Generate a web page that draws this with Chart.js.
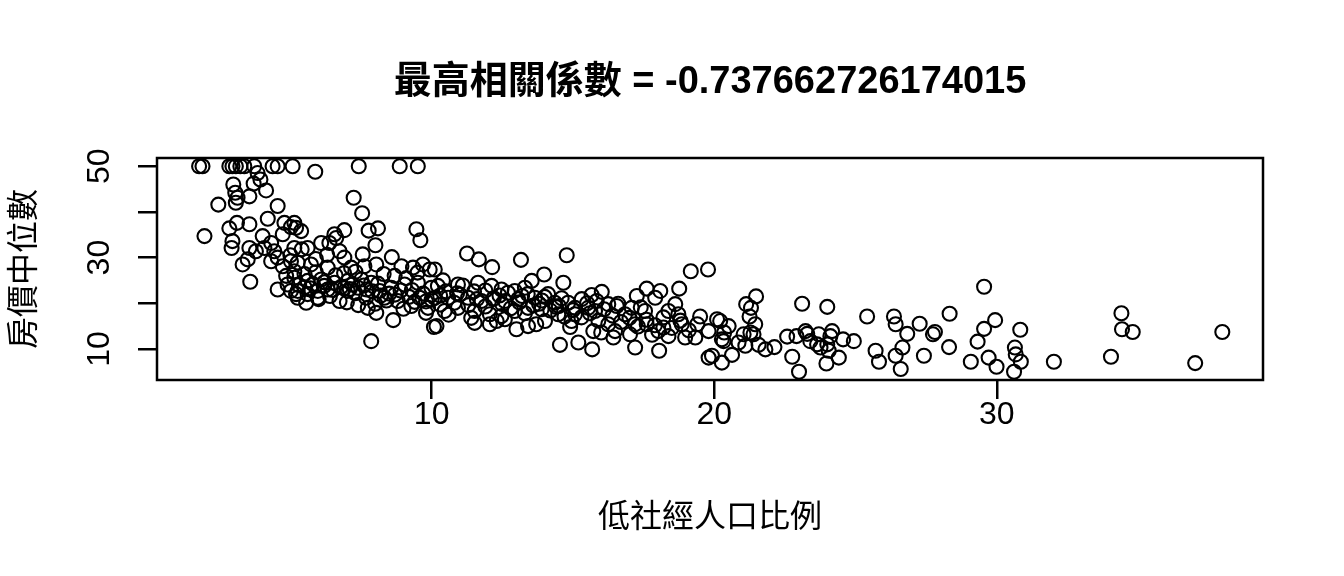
<!DOCTYPE html>
<html>
<head>
<meta charset="utf-8">
<script src="https://cdn.jsdelivr.net/npm/chart.js@4.4.1/dist/chart.umd.min.js"></script>
<style>
  html, body { margin: 0; padding: 0; background: #fff; }
  canvas { display: block; }
</style>
</head>
<body>
<canvas id="myChart" width="1344" height="576"></canvas>
<script>
// 低社經人口比例 (x) and 房價中位數 (y)
const lstat = [
  1.77, 1.89, 2.84, 2.95, 3.07, 3.23, 3.37, 3.72, 4.37, 4.55, 5.08, 7.42, 8.87, 9.51,
  3.84, 3.94, 3.70, 2.98, 4.14, 3.05, 3.13, 3.55, 3.07, 2.45, 4.55, 4.20, 3.55, 3.11, 2.84, 1.96,
  2.95, 2.92, 3.55, 4.02, 4.79, 5.02, 4.73, 4.32, 4.08, 3.78, 3.31, 3.49, 3.58, 4.43, 4.55, 4.73,
  4.32, 5.14, 5.02, 5.14, 4.85, 4.55, 4.90, 5.02, 5.20, 5.26,
  5.88, 7.24, 7.54, 7.77, 8.10, 8.01, 9.46, 9.60, 6.91, 6.56, 6.62, 6.09, 6.38, 5.61, 5.38, 5.14,
  5.20, 6.74, 6.91, 7.56, 8.04, 8.59, 8.93, 8.69, 9.34, 9.69, 9.93, 5.26, 5.73, 6.32, 7.15, 7.62,
  5.14, 5.61, 6.09, 6.56, 7.03, 7.51, 7.86, 8.16, 8.57, 9.04, 9.51, 9.99, 5.26, 5.61, 5.97, 6.32,
  6.74, 7.03, 7.39, 7.68, 7.74, 8.04, 8.33, 8.80, 9.28, 9.57, 9.87, 5.56, 5.97, 8.64, 10.08, 7.86,
  11.25, 11.67, 12.14, 13.16, 14.78, 13.98, 13.54, 14.66, 10.93, 11.64, 12.12, 12.47, 12.94, 13.30,
  10.22, 10.11, 10.11, 10.58, 11.29, 11.76, 12.17, 12.59, 13.06, 13.65, 14.12, 14.36, 14.83, 15.07,
  10.46, 10.93, 11.52, 12.06, 12.47, 12.94, 13.41, 13.89, 14.48, 14.95, 10.17, 11.52, 12.06, 12.59,
  13.00, 13.41, 14.01, 14.54,
  19.17, 19.78, 18.76, 17.61, 18.09, 17.26, 17.91, 16.02, 15.66, 15.31, 15.84, 16.25, 16.55, 18.62,
  18.38, 18.73, 19.50, 20.10, 16.84, 17.08, 17.55, 15.07, 15.54, 15.78, 16.25, 16.49, 15.72, 15.19,
  15.68, 16.43, 17.20, 17.02, 17.20, 17.61, 18.02, 18.20, 18.38, 18.05, 18.85, 18.97, 19.33, 19.80,
  20.27, 19.80, 19.92, 20.27,
  21.48, 21.13, 21.30, 21.25, 21.45, 20.51, 20.21, 20.35, 20.33, 20.63, 20.86, 21.04, 21.28, 21.39,
  21.10, 21.57, 21.81, 22.13, 22.58, 22.91, 22.76, 23.00, 23.11, 23.23, 23.29, 23.40, 23.70, 23.64,
  23.76, 24.00, 24.17, 24.11, 24.00, 24.05, 23.97, 24.41, 24.56, 24.94, 25.41, 25.71, 25.83, 26.36,
  26.42, 26.42, 26.60,
  26.83, 26.66, 27.27, 27.42, 27.74, 27.81, 28.33, 28.31, 29.08, 29.55, 29.55, 29.94, 29.32, 29.71,
  29.99, 30.64, 30.67, 30.83, 30.85, 30.61, 32.02, 34.04, 34.41, 34.43, 34.81, 37.02, 37.98,
  5.50, 5.80, 6.20, 6.50, 6.80, 7.10, 7.30, 7.60, 7.90, 8.20, 8.40, 8.70, 8.90, 9.20, 9.40, 9.70,
  10.00, 10.30, 10.50, 10.80, 11.00, 11.30, 11.60, 11.90, 12.20, 12.50, 12.80, 13.10, 13.30, 13.60,
  13.90, 14.20, 14.40, 14.70, 15.00, 15.30, 15.60, 15.90, 16.10, 16.40, 16.70, 17.00, 17.30, 17.60,
  17.90, 18.20, 18.50, 18.80, 19.10, 19.40,
  6.00, 6.40, 7.00, 7.40, 8.00, 9.00, 9.80, 10.60, 11.40, 12.30, 13.70, 14.90, 16.00, 17.80,
  5.00, 5.40, 5.90, 6.30, 6.90, 7.30, 8.30, 9.10, 9.50, 10.40, 11.10, 11.90, 12.70, 13.40, 14.00,
  14.60, 15.50, 16.60, 17.40,
  5.30, 5.50, 5.70, 5.90, 6.20, 6.60, 6.90, 7.20, 7.70, 8.10, 8.50, 9.30, 9.80, 10.30, 10.90,
  11.50, 12.40, 13.20, 13.80, 14.50
];
const medv = [
  50, 50, 50, 50, 50, 50, 50, 50, 50, 50, 50, 50, 50, 50,
  48.5, 47.1, 46.2, 46.0, 44.7, 44.2, 43.1, 43.4, 42.0, 41.6, 41.3, 38.5, 37.3, 37.6, 36.4, 34.7,
  33.6, 32.1, 32.1, 34.7, 37.6, 36.7, 35.1, 33.2, 32.1, 31.4, 28.5, 29.6, 24.7, 31.4, 30.0, 28.1,
  29.2, 32.1, 29.2, 27.0, 26.0, 23.0, 24.1, 22.7, 22.0, 21.2,
  48.8, 43.1, 39.7, 35.9, 36.4, 32.7, 36.2, 33.8, 36.0, 35.1, 34.3, 33.2, 33.2, 32.1, 35.8, 37.6,
  36.5, 31.4, 30.0, 30.7, 28.5, 30.1, 28.1, 26.0, 27.8, 28.5, 27.4, 28.9, 28.5, 27.8, 27.8, 28.1,
  25.6, 24.9, 25.2, 24.5, 24.9, 25.2, 24.5, 22.7, 23.4, 24.1, 24.5, 23.4, 22.7, 22.0, 22.7, 23.0,
  20.5, 22.7, 23.4, 21.2, 19.0, 17.9, 21.2, 20.5, 19.4, 21.2, 19.0, 20.1, 21.2, 16.3, 14.8, 11.7,
  30.9, 29.6, 27.9, 29.5, 30.5, 26.3, 24.9, 24.5, 24.1, 24.5, 23.8, 23.0, 22.7, 23.4,
  23.8, 27.4, 21.2, 21.2, 21.2, 20.5, 20.9, 20.5, 20.9, 21.2, 22.0, 20.1, 20.1, 19.0,
  18.3, 19.0, 18.3, 17.6, 17.2, 18.3, 19.0, 18.7, 17.6, 16.1, 15.0, 15.7, 15.4, 16.5,
  14.3, 15.0, 16.1, 10.9,
  27.0, 27.4, 23.2, 23.2, 22.7, 21.6, 21.2, 22.5, 21.8, 20.9, 20.5, 19.8, 19.4, 19.8,
  18.3, 17.6, 17.1, 16.5, 17.6, 19.0, 18.3, 17.6, 19.0, 18.3, 15.4, 13.9, 13.9, 11.4,
  9.9, 12.5, 15.4, 13.2, 10.3, 15.4, 13.9, 14.7, 12.8, 9.6, 15.4, 12.5, 12.5, 13.9,
  12.1, 8.1, 8.5, 7.0,
  21.5, 19.8, 19.0, 17.1, 15.4, 15.0, 16.1, 13.6, 11.7, 8.7, 11.4, 13.2, 13.6, 13.2,
  10.7, 10.9, 9.9, 10.4, 12.7, 12.8, 8.3, 5.0, 19.9, 13.9, 13.3, 11.7, 13.2, 11.0,
  10.3, 19.2, 13.9, 12.8, 11.0, 9.6, 6.8, 8.1, 12.1, 11.7, 17.1, 9.6, 7.2, 17.1,
  15.4, 8.5, 5.6,
  13.3, 10.3, 15.5, 8.5, 13.2, 13.7, 17.7, 10.4, 7.2, 23.6, 14.4, 16.3, 11.6, 8.1,
  6.1, 10.3, 8.8, 14.2, 7.2, 5.0, 7.2, 8.3, 17.8, 14.3, 13.7, 6.9, 13.7,
  23.5, 24.2, 23.8, 22.9, 23.6, 23.1, 22.2, 23.9, 22.6, 21.7, 20.6, 21.9, 22.8, 21.4, 20.3, 22.1,
  20.8, 21.7, 22.6, 20.1, 21.9, 19.6, 20.9, 19.3, 21.1, 19.8, 18.9, 20.2, 17.8, 19.5,
  20.6, 18.4, 19.2, 17.1, 18.5, 16.9, 17.8, 16.2, 18.7, 17.3, 15.9, 16.8, 14.9, 16.4,
  15.2, 16.9, 14.6, 16.2, 14.1, 15.4,
  20.9, 21.6, 20.2, 19.6, 19.9, 18.8, 17.9, 17.5, 16.8, 16.1, 15.4, 14.8, 13.6, 13.1,
  30.5, 31.8, 29.7, 30.6, 26.6, 26.9, 26.4, 25.5, 26.7, 25.0, 23.9, 22.8, 22.3, 22.0, 21.4,
  21.1, 20.0, 19.9, 19.1,
  24.0, 26.4, 23.3, 26.8, 24.6, 26.1, 23.3, 24.1, 23.0, 24.3, 22.1, 22.9, 20.4, 19.7, 22.2,
  22.6, 21.7, 21.6, 19.9, 19.4
];
const xTicks = [10, 20, 30];
const yTicks = [10, 20, 30, 40, 50];
const yTickLabels = ['10', '', '30', '', '50'];

const FAMILY = '"Liberation Sans", "Noto Sans CJK TC", sans-serif';
Chart.defaults.color = '#000';
Chart.defaults.font.family = FAMILY;

// R style box around the plot region
const boxPlugin = {
  id: 'box',
  afterDraw(chart) {
    const { ctx, chartArea: a } = chart;
    ctx.save();
    ctx.strokeStyle = '#000';
    ctx.lineWidth = 2.5;
    ctx.strokeRect(a.left, a.top, a.right - a.left, a.bottom - a.top);
    ctx.restore();
  }
};

const points = lstat.map((x, i) => ({ x: x, y: medv[i] }));

new Chart(document.getElementById('myChart').getContext('2d'), {
  type: 'scatter',
  data: {
    datasets: [{
      data: points,
      pointStyle: 'circle',
      pointRadius: 7,
      pointHoverRadius: 7,
      borderWidth: 2.1,
      borderColor: '#000',
      backgroundColor: 'rgba(0,0,0,0)'
    }]
  },
  options: {
    responsive: false,
    animation: false,
    devicePixelRatio: 1,
    layout: { padding: { left: 0, right: 81, top: 0, bottom: 0 } },
    plugins: {
      legend: { display: false },
      tooltip: { enabled: false },
      title: {
        display: true,
        fullSize: false,
        text: '最高相關係數 = -0.737662726174015',
        color: '#000',
        font: { size: 38, weight: 'bold', family: FAMILY, lineHeight: 1.2 },
        padding: { top: 60, bottom: 52.4 }
      }
    },
    scales: {
      x: {
        type: 'linear',
        min: 0.28,
        max: 39.42,
        afterBuildTicks: s => { s.ticks = xTicks.map(v => ({ value: v })); },
        afterFit: s => { s.height = 196; },
        border: { display: false },
        grid: { drawOnChartArea: false, drawTicks: true, tickLength: 19, color: '#000', lineWidth: 2.5 },
        ticks: { color: '#000', font: { size: 32 }, padding: -3, maxRotation: 0 },
        title: {
          display: true,
          text: '低社經人口比例',
          color: '#000',
          font: { size: 32, lineHeight: 1.2 },
          padding: { top: 0, bottom: 39 }
        }
      },
      y: {
        type: 'linear',
        min: 3.2,
        max: 51.8,
        afterBuildTicks: s => { s.ticks = yTicks.map(v => ({ value: v })); },
        afterFit: s => { s.width = 157; },
        border: { display: false },
        grid: { drawOnChartArea: false, drawTicks: true, tickLength: 19, color: '#000', lineWidth: 2.5 },
        ticks: {
          color: '#000',
          font: { size: 32 },
          minRotation: 90,
          maxRotation: 90,
          crossAlign: 'center',
          padding: 20,
          callback: (v, i) => yTickLabels[i]
        },
        title: {
          display: true,
          text: '房價中位數',
          color: '#000',
          font: { size: 32, lineHeight: 1.2 },
          padding: { top: 6, bottom: 0 }
        }
      }
    }
  },
  plugins: [boxPlugin]
});
</script>
</body>
</html>
